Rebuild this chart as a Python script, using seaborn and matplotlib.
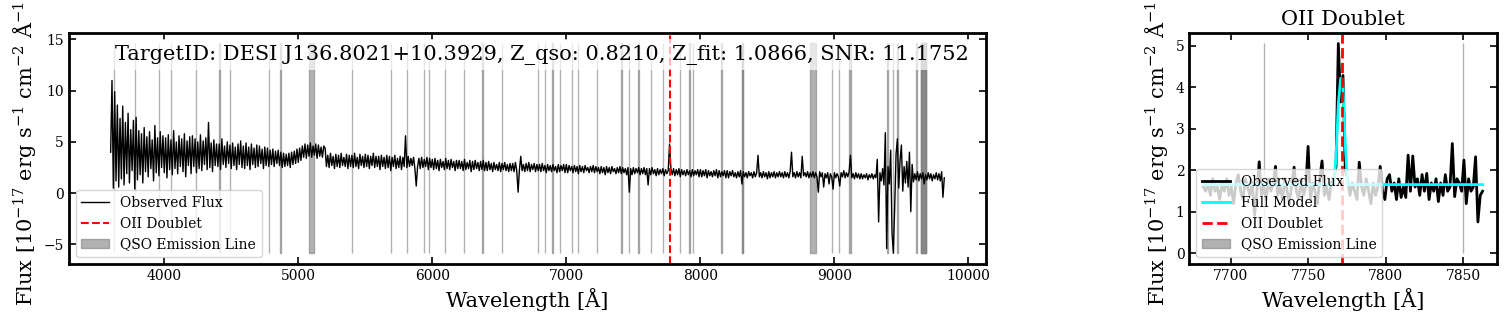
import numpy as np
import matplotlib
matplotlib.use("Agg")
import matplotlib.pyplot as plt
import seaborn as sns

# Spectrum data

info_text = "TargetID: DESI J136.8021+10.3929, Z_qso: 0.8210, Z_fit: 1.0866, SNR: 11.1752"
oii_wave = 7772.0

# full spectrum, 10 A steps from 3600 to 9820 (one row = 200 A)
wave_obs = np.arange(3600, 9821, 10)
flux_obs = [
    4.0, 11.0, 0.5, 9.9, 1.2, 8.6, 0.6, 7.3, 1.4, 8.5, 0.8, 6.9, 1.9, 7.8, 1.0, 6.2, 2.2, 7.1, 0.4, 7.4,
    1.3, 6.1, 1.8, 5.8, 1.0, 6.4, 2.1, 5.5, 1.6, 6.0, 2.4, 5.2, 1.2, 6.6, 2.0, 5.4, 1.7, 6.0, 2.5, 5.6,
    2.0, 5.4, 1.5, 5.7, 2.3, 5.2, 1.8, 6.1, 2.4, 5.0, 1.9, 5.6, 2.6, 5.3, 2.1, 5.8, 1.6, 5.1, 2.7, 5.5,
    1.9, 5.6, 2.6, 5.3, 2.0, 5.0, 2.4, 5.7, 2.2, 5.1, 2.8, 5.4, 2.3, 6.9, 2.5, 4.9, 2.1, 5.2, 2.7, 4.8,
    2.6, 4.8, 2.3, 5.3, 2.8, 4.6, 2.5, 5.0, 2.9, 4.7, 2.4, 4.9, 2.7, 4.5, 2.3, 4.8, 2.8, 5.1, 2.5, 4.6,
    2.4, 4.9, 2.7, 4.5, 2.3, 4.8, 2.8, 4.4, 2.5, 4.7, 2.6, 4.6, 2.9, 4.3, 2.4, 4.5, 2.7, 4.4, 2.6, 4.2,
    2.8, 4.3, 2.6, 4.1, 2.9, 4.2, 2.7, 4.0, 2.5, 3.9, 2.6, 3.8, 2.7, 3.9, 2.5, 4.0, 2.8, 4.1, 2.9, 4.3,
    3.0, 4.4, 3.2, 4.6, 3.5, 4.8, 3.4, 4.7, 3.6, 4.9, 3.5, 4.6, 3.7, 4.8, 3.4, 4.7, 3.6, 4.5, 3.5, 4.6,
    4.4, 2.6, 3.7, 2.5, 3.9, 2.7, 3.6, 2.4, 3.8, 2.6, 3.7, 2.5, 3.9, 2.7, 3.5, 2.6, 3.8, 2.4, 3.7, 2.6,
    3.7, 2.5, 3.9, 2.6, 3.5, 2.4, 3.8, 2.7, 3.6, 2.5, 3.8, 2.6, 3.7, 2.4, 3.6, 2.7, 3.9, 2.5, 3.6, 2.6,
    3.6, 2.3, 3.7, 2.6, 3.5, 2.4, 3.7, 2.5, 3.6, 2.2, 3.5, 2.6, 3.7, 2.4, 3.4, 2.5, 3.6, 2.3, 3.5, 2.6,
    5.6, 2.5, 3.6, 2.6, 3.4, 2.7, 3.5, 2.4, 0.7, 2.6, 3.4, 2.4, 3.5, 2.5, 3.3, 2.6, 3.5, 2.3, 3.4, 2.5,
    3.3, 2.3, 3.4, 2.4, 3.2, 2.2, 3.3, 2.5, 3.1, 2.3, 3.4, 2.4, 3.2, 2.3, 3.3, 2.5, 3.1, 2.2, 3.2, 2.4,
    3.2, 2.4, 3.1, 2.2, 3.3, 2.3, 3.0, 2.4, 3.2, 2.1, 3.1, 2.3, 3.2, 2.4, 3.0, 2.2, 3.1, 2.3, 3.2, 2.2,
    3.0, 2.2, 3.1, 2.3, 2.9, 2.1, 3.0, 2.3, 2.8, 2.2, 3.0, 2.1, 2.9, 2.3, 3.0, 2.2, 2.8, 2.1, 2.9, 2.2,
    2.9, 2.1, 3.0, 2.2, 0.1, 2.3, 3.6, 2.2, 2.8, 2.1, 2.9, 2.2, 3.0, 2.1, 2.8, 2.3, 2.9, 2.1, 2.8, 2.2,
    2.8, 2.1, 2.9, 2.2, 2.7, 2.0, 2.8, 2.2, 2.7, 2.1, 2.8, 2.2, 2.6, 2.0, 2.8, 2.1, 2.7, 2.2, 2.8, 2.0,
    2.8, 2.0, 2.7, 2.2, 2.6, 2.0, 2.7, 2.1, 2.6, 1.9, 2.7, 2.1, 2.6, 2.0, 2.7, 2.2, 2.5, 2.0, 2.6, 2.1,
    2.7, 2.0, 2.6, 2.1, 2.5, 1.9, 2.6, 2.0, 2.5, 1.8, 2.6, 2.0, 2.5, 1.9, 2.6, 2.1, 2.4, 1.9, 2.5, 2.0,
    2.6, 1.9, 2.5, 2.0, 2.4, 1.8, 2.5, 0.1, 2.4, 1.8, 2.5, 1.9, 2.4, 2.0, 2.5, 1.8, 2.4, 1.9, 2.5, 1.8,
    2.4, 0.8, 2.4, 1.8, 2.5, 1.9, 2.3, 1.7, 2.4, 1.8, 2.3, 1.9, 2.4, 1.7, 2.3, 1.9, 2.2, 4.8, 2.4, 1.8,
    2.4, 1.7, 2.3, 1.8, 2.4, 1.6, 2.3, 1.8, 2.2, 1.7, 2.3, 1.8, 2.2, 1.6, 2.3, 1.7, 2.2, 1.8, 2.3, 1.6,
    2.3, 1.6, 2.2, 1.7, 2.3, 1.5, 2.2, 1.7, 2.1, 1.6, 2.2, 1.7, 2.3, 1.5, 2.2, 1.6, 2.1, 1.7, 2.2, 1.5,
    2.2, 1.5, 2.1, 1.7, 2.2, 1.6, 2.0, 1.5, 2.1, 1.6, 2.2, 0.9, 2.1, 1.6, 2.0, 1.5, 2.1, 1.7, 2.0, 1.5,
    2.1, 1.6, 2.0, 3.7, 1.6, 2.0, 1.5, 2.1, 1.6, 2.0, 1.4, 2.1, 1.5, 2.0, 1.6, 2.1, 1.5, 2.0, 1.6, 2.1,
    1.6, 2.0, 1.5, 2.1, 1.6, 2.0, 1.5, 2.1, 4.0, 1.6, 2.0, 1.5, 2.1, 1.6, 2.0, 1.5, 3.6, 1.7, 2.0, 1.6,
    2.1, 1.5, 2.0, 1.6, 2.1, 1.5, 2.0, 1.6, 0.1, 2.1, 1.6, 2.0, 0.6, 1.9, 1.5, 2.0, 0.9, 1.9, 1.6, 0.4,
    2.0, 1.5, 1.9, 1.6, 0.7, 2.0, 1.6, 2.2, 1.5, 2.0, 1.6, 2.1, 3.7, 1.5, 1.9, 1.4, 2.0, 1.5, 1.9, 1.4,
    1.9, 1.4, 1.8, 1.5, 1.9, 1.3, 1.8, 1.5, 1.9, 1.4, 1.8, 1.5, 3.3, -2.8, 2.0, 1.2, 2.4, 0.8, 5.9, -5.4,
    2.6, 0.9, 4.2, -3.9, -5.85, -1.3, 3.8, 5.3, 0.5, 3.2, 4.7, 0.2, 2.6, 1.0, 3.1, 0.6, 4.0, -1.8, 2.8, 1.1,
    1.9, 1.3, 2.1, 1.2, 1.9, 1.4, 2.0, 0.9, 1.8, 1.3, 2.0, 1.4, 1.9, 1.2, 1.8, 1.4, 2.0, 1.3, 1.9, 1.2,
    2.1, -0.4, 1.5,
]

# OII window, 1.5 A steps from 7682.5 to 7862.5
wave_zoom = np.arange(7682.5, 7863.0, 1.5)
flux_zoom = [
    1.6, 1.5, 1.7, 1.4, 1.8, 1.5, 1.6, 1.3, 1.7, 1.5,
    1.8, 1.4, 1.6, 1.2, 1.7, 1.9, 1.5, 1.3, 1.8, 1.6,
    1.4, 1.7, 0.92, 1.5, 2.21, 1.4, 1.6, 1.3, 1.8, 1.5,
    1.7, 2.1, 1.4, 1.6, 1.3, 1.8, 1.5, 1.2, 1.7, 2.08,
    1.5, 1.3, 1.8, 1.4, 1.6, 2.58, 1.3, 1.7, 1.5, 1.2,
    1.8, 2.23, 1.4, 1.6, 1.3, 1.7, 1.8, 2.1, 5.06, 3.65,
    4.29, 2.0, 1.8, 1.4, 1.7, 1.5, 1.3, 2.2, 1.6, 1.4,
    1.8, 1.5, 1.2, 1.7, 1.4, 1.6, 2.1, 1.5, 1.3, 1.8,
    1.9, 1.5, 1.7, 1.3, 1.8, 1.35, 1.6, 1.35, 2.37, 1.5,
    2.35, 1.6, 1.8, 1.4, 1.9, 1.5, 1.93, 1.3, 1.7, 1.5,
    1.8, 1.25, 1.7, 1.4, 1.9, 1.5, 1.6, 2.65, 1.37, 1.8,
    1.7, 1.5, 2.25, 1.2, 1.8, 1.5, 1.6, 2.33, 0.76, 1.4,
    1.5,
]
model_zoom = [1.66] * 56 + [1.66, 2.3, 3.6, 4.22, 4.0, 2.6, 1.66] + [1.66] * 58

# QSO emission line markers (observed wavelength, width in A)
qso_line_wave = [3627, 3781, 3963, 4048, 4237, 4413, 4490, 4784, 4866, 5097,
                 5401, 5694, 5813, 5940, 5975, 6093, 6239, 6373, 6522, 6791,
                 6841, 6896, 6953, 7045, 7085, 7227, 7413, 7470, 7537, 7630,
                 7721.5, 7850, 7916, 7948, 8157, 8313, 8313, 8837, 8981, 9035,
                 9118, 9396, 9436, 9471, 9613, 9664, 9664, 9664]
qso_line_width = [1, 3, 2, 2, 3, 2, 2, 1, 3, 36,
                  3, 2, 3, 3, 1, 1, 1, 3, 3, 1,
                  1, 2, 4, 1, 3, 3, 3, 1, 3, 3,
                  1, 1, 8, 1, 3, 10, 10, 45, 1, 3,
                  12, 1, 3, 1, 1, 35, 35, 35]
zoom_lines = [7721.5, 7850]

# Style

plt.rcParams['font.family'] = 'serif'
plt.rcParams['font.serif'] = ['DejaVu Serif']
plt.rcParams['mathtext.fontset'] = 'dejavuserif'
plt.rcParams['xtick.direction'] = 'in'
plt.rcParams['ytick.direction'] = 'in'
plt.rcParams['xtick.top'] = True
plt.rcParams['ytick.right'] = True
plt.rcParams['xtick.major.size'] = 5
plt.rcParams['ytick.major.size'] = 5
plt.rcParams['xtick.major.width'] = 1.2
plt.rcParams['ytick.major.width'] = 1.2
plt.rcParams['axes.linewidth'] = 2

ylab = r"Flux [$10^{-17}$ erg s$^{-1}$ cm$^{-2}$ Å$^{-1}$]"
xlab = "Wavelength [Å]"

fig = plt.figure(figsize=(15.06, 3.21), dpi=100)
ax1 = fig.add_axes([0.0458, 0.1776, 0.6089, 0.7196])
ax2 = fig.add_axes([0.7898, 0.1776, 0.2039, 0.7196])

# Full spectrum panel

sns.lineplot(x=wave_obs, y=flux_obs, ax=ax1, color='black', lw=1,
             estimator=None, sort=False, label='Observed Flux')
ax1.axvline(oii_wave, color='red', ls='--', lw=1.5, label='OII Doublet')
for i, (w, dw) in enumerate(zip(qso_line_wave, qso_line_width)):
    ax1.fill_between([w - dw / 2, w + dw / 2], -5.88, 14.6, color='gray', alpha=0.6,
                     label='QSO Emission Line' if i == 0 else None)
ax1.text(0.05, 0.95, info_text, transform=ax1.transAxes, fontsize=15, va='top',
         bbox=dict(facecolor='white', alpha=0.7, edgecolor='none'))
ax1.set_xlabel(xlab, fontsize=15)
ax1.set_ylabel(ylab, fontsize=15)
ax1.tick_params(labelsize=10)
ax1.legend(loc='lower left', fontsize=10)

# OII zoom panel

sns.lineplot(x=wave_zoom, y=flux_zoom, ax=ax2, color='black', lw=2,
             estimator=None, sort=False, label='Observed Flux')
sns.lineplot(x=wave_zoom, y=model_zoom, ax=ax2, color='cyan', lw=2,
             estimator=None, sort=False, label='Full Model')
ax2.axvline(oii_wave, color='red', ls='--', lw=2, label='OII Doublet')
for i, w in enumerate(zoom_lines):
    ax2.fill_between([w - 0.2, w + 0.2], 0, 5.06, color='gray', alpha=0.6,
                     label='QSO Emission Line' if i == 0 else None)
ax2.set_title('OII Doublet', fontsize=15)
ax2.set_xlabel(xlab, fontsize=15)
ax2.set_ylabel(ylab, fontsize=15)
ax2.tick_params(labelsize=10)
ax2.legend(loc='lower left', fontsize=10)

fig.savefig('out.png', dpi=100)
